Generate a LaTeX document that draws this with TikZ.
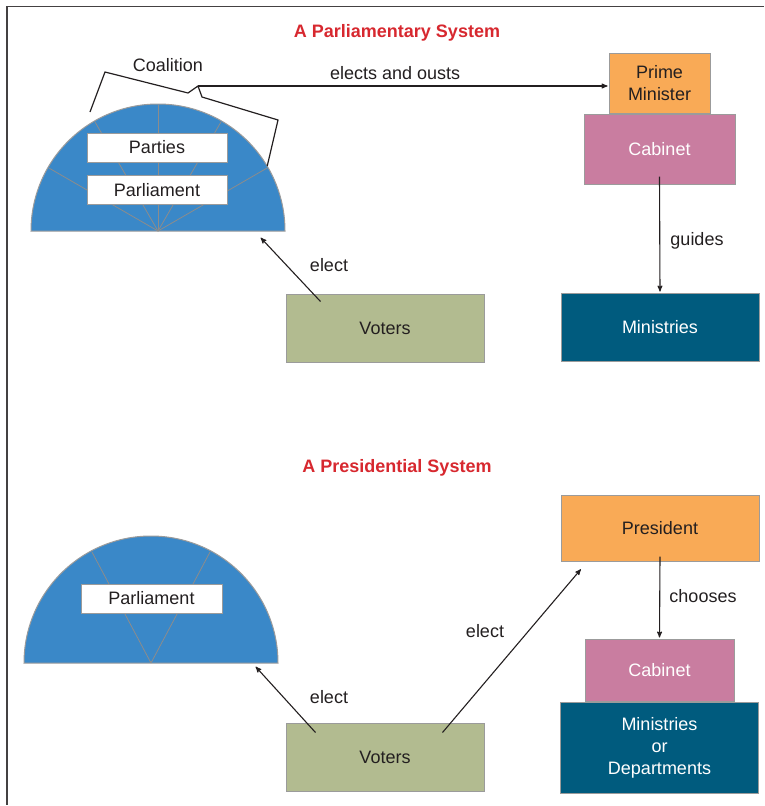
\documentclass[tikz,border=0pt]{standalone}
\usepackage{fontspec}
\setmainfont{Liberation Sans}
\usetikzlibrary{arrows,positioning}

\definecolor{hallblue}{HTML}{3A88C8}
\definecolor{edgegray}{HTML}{9B9B9B}
\definecolor{spokegray}{HTML}{8C8C8C}
\definecolor{pmorange}{HTML}{F9AA56}
\definecolor{cabpink}{HTML}{C97DA0}
\definecolor{minteal}{HTML}{005B7E}
\definecolor{votergreen}{HTML}{B2BB90}
\definecolor{headred}{HTML}{D7282F}
\definecolor{ink}{HTML}{231F20}

\begin{document}
\begin{tikzpicture}[x=1pt,y=-1pt,>=stealth',shorten >=1pt,
    font=\fontsize{18}{22}\selectfont,text=ink,
    box/.style    ={draw=edgegray,line width=1pt,inner sep=0pt,align=center},
    seat/.style   ={box,fill=white,minimum width=140pt,minimum height=29pt},
    heading/.style={font=\fontsize{18}{22}\selectfont\bfseries,text=headred},
    hall/.style   ={fill=hallblue,draw=edgegray,line width=1pt},
    spoke/.style  ={draw=spokegray,line width=0.8pt},
    link/.style   ={->,draw=ink,line width=1.1pt}]
  \useasboundingbox (0,0) rectangle (764,806);
  \draw[ink!85,line width=1.5pt] (764,6.5) -- (7,6.5) -- (7,806);

  % parliamentary system
  \node[heading]      (ttop) at (397,33)  {A Parliamentary System};

  \path[hall] (31,231) arc[start angle=180,end angle=360,radius=127] -- cycle;
  \foreach \a in {-30,-60,-90,-120,-150}
    \draw[spoke] (158,231) -- ++(\a:127);
  \coordinate         (hall1) at (260,237);

  \node[seat]         (parties) at (157,147.5) {Parties};
  \node[seat]         (parl1)   at (157,190)   {Parliament};
  \node               (lcoal)   at (168,65)    {Coalition};
  \draw[ink,line width=1.2pt] (90,112) -- (105,72) -- (188,93) -- (198,86) coordinate (cpeak)
        -- (202,97) -- (278,120) -- (267,167);

  \node[box,fill=pmorange,minimum width=101pt,minimum height=60pt]            (pm)   at (659.5,83) {Prime\\Minister};
  \node[box,fill=cabpink,text=white,minimum width=151pt,minimum height=70pt]  (cab)  [below = 0pt of pm] {Cabinet};
  \node[box,fill=minteal,text=white,minimum width=198pt,minimum height=68pt]  (min)  at (660,327) {Ministries};
  \node[box,fill=votergreen,minimum width=198pt,minimum height=68pt]          (vt)   at (385,328) {Voters};

  \path (vt.north west) ++(35,8) coordinate (vtl);
  \path (cpeak) edge [link] node [above=2pt,pos=0.48] {elects and ousts} (cpeak -| pm.west);
  \path (vtl)   edge [link]                    node   {} (hall1);
  \path ([yshift=8pt]cab.south) edge [link]    node   {} (min.north);
  \node               (lel1) at (329,265) {elect};
  \node               (lgd)  at (697,241) {guides};

  % presidential system
  \node[heading]      (tbot) at (397,468) {A Presidential System};

  \path[hall] (24,663) arc[start angle=180,end angle=360,radius=127] -- cycle;
  \foreach \a in {-62,-118}
    \draw[spoke] (151,663) -- ++(\a:127);
  \coordinate         (hall2) at (255,666);
  \node[seat,minimum width=141pt] (parl2) at (151.5,598.5) {Parliament};

  \node[box,fill=pmorange,minimum width=198pt,minimum height=66pt]            (pres) at (660,528) {President};
  \node[box,fill=cabpink,text=white,minimum width=149pt,minimum height=62pt]  (cab2) at (659.5,670) {Cabinet};
  \node[box,fill=minteal,text=white,minimum width=198pt,minimum height=91pt]  (dep)  [below = 0pt of cab2] {Ministries\\or\\Departments};
  \node[box,fill=votergreen,minimum width=198pt,minimum height=68pt]          (vb)   at (385,757) {Voters};

  \path (vb.north west) ++(30,10)  coordinate (vbl);
  \path (vb.north west) ++(157,10) coordinate (vbr);
  \path (pres.south west) ++(21,7) coordinate (prestip);
  \path (vbl)   edge [link]                    node   {} (hall2);
  \path (vbr)   edge [link]                    node   {} (prestip);
  \path ([yshift=5pt]pres.south) edge [link]   node   {} (cab2.north);
  \node               (lel2) at (329,697) {elect};
  \node               (lel3) at (485,631) {elect};
  \node               (lch)  at (703,596) {chooses};
\end{tikzpicture}
\end{document}
